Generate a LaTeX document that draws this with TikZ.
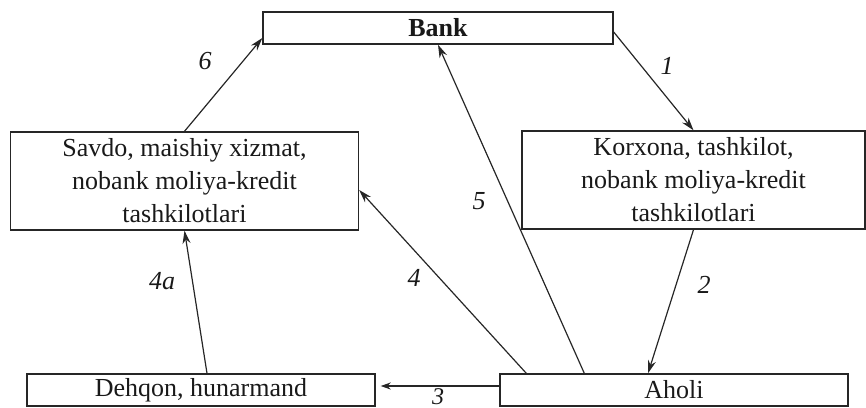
\documentclass[tikz,border=0pt]{standalone}
\usepackage{fontspec}
\setmainfont{Liberation Serif}
\usetikzlibrary{positioning,calc,arrows.meta}
\tikzset{font=\fontsize{13}{16.5}\selectfont}

\begin{document}
\begin{tikzpicture}[x=0.5pt, y=-0.5pt, line width=0.6pt, draw=black!85,
	box/.style={draw, line width=0.7pt, align=center, inner sep=1pt},
	flow/.style={-{Stealth[length=6.5pt, width=4pt]}, black!85}]
	\useasboundingbox (0,0) rectangle (866,407);
	\clip (0,0) rectangle (866,407);
	\begin{scope}
		\tikzstyle{every node}=[inner sep=1pt, text=black!90]
		\node[box, minimum width=175pt, minimum height=16pt] (bank) at (438, 28) {\textbf{Bank}};
		\node[box, minimum width=174pt, minimum height=49pt] (savdo) at (184.5, 181) {Savdo, maishiy xizmat,\\nobank moliya-kredit\\tashkilotlari};
		\node[box, minimum width=171.5pt, minimum height=49pt] (korx) at (693.5, 180) {Korxona, tashkilot,\\nobank moliya-kredit\\tashkilotlari};
		\node[box, minimum width=174pt, minimum height=16pt] (dehq) at (201, 390) {Dehqon, hunarmand};
		\node[box, minimum width=174pt, minimum height=16pt] (aholi) at (674, 390) {Aholi};

		\node (l1) at (667, 66) {\textit{1}};
		\node (l2) at (704, 285) {\textit{2}};
		\node[inner sep=0pt, text depth=0pt, font=\fontsize{12}{14}\selectfont] (l3) at (438, 396.5) {\textit{3}};
		\node (l4) at (414, 278) {\textit{4}};
		\node (l4a) at (162, 281) {\textit{4a}};
		\node (l5) at (479, 201) {\textit{5}};
		\node (l6) at (205, 61) {\textit{6}};

		\draw[flow] ([yshift=-2pt]bank.east) -- (korx.north);
		\draw[flow] (korx.south) -- ([xshift=-13pt]aholi.north);
		\draw[flow, shorten >=2.5pt, -{Stealth[length=5pt, width=3.5pt]}] ([yshift=2pt]aholi.west) -- ([yshift=2pt]dehq.east);
		\draw[flow] ([xshift=13.5pt]aholi.north west) -- ([yshift=-4.5pt]savdo.east);
		\draw[flow] ([xshift=3pt]dehq.north) -- (savdo.south);
		\draw[flow] ([xshift=42.5pt]aholi.north west) -- (bank.south);
		\draw[flow] (savdo.north) -- ([yshift=-5pt]bank.west);
	\end{scope}
\end{tikzpicture}
\end{document}
